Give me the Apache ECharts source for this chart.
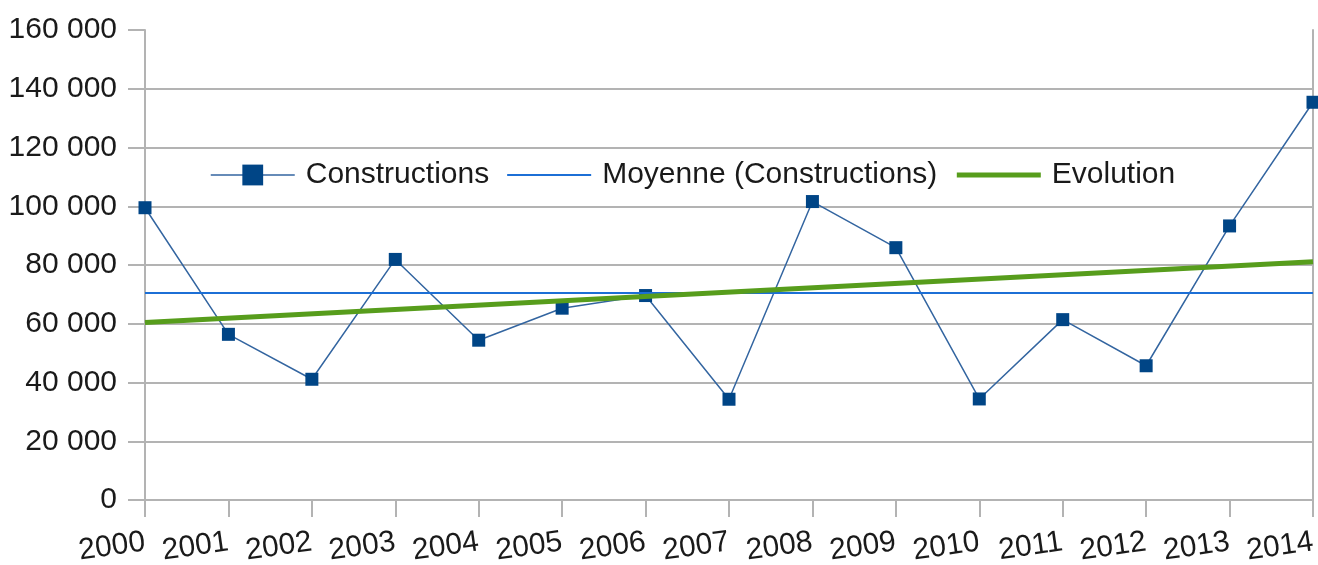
<!DOCTYPE html>
<html>
<head>
<meta charset="utf-8">
<script src="https://cdn.jsdelivr.net/npm/echarts@6/dist/echarts.min.js"></script>
<style>
html,body{margin:0;padding:0;background:#fff;}
#chart{width:1318px;height:565px;}
</style>
</head>
<body>
<div id="chart"></div>
<script>
const categories = ['2000','2001','2002','2003','2004','2005','2006','2007','2008','2009','2010','2011','2012','2013','2014'];
const constructions = [99500, 56400, 41100, 81900, 54400, 65300, 69600, 34300, 101600, 85900, 34400, 61400, 45700, 93300, 135400];
const meanValue = 70700;
const trendStart = 60400;
const trendEnd = 81100;
const yTicks = { min: 0, max: 160000, interval: 20000 };

const FONT = 'Liberation Sans';
function fmt(v){ return String(v).replace(/\B(?=(\d{3})+(?!\d))/g, ' '); }

const chart = echarts.init(document.getElementById('chart'), null, {renderer:'canvas'});
chart.setOption({
  animation: false,
  backgroundColor: '#ffffff',
  grid: { left: 145, right: 5, top: 30, bottom: 65, containLabel: false, outerBoundsMode: 'none' },
  legend: {
    data: [
      { name: 'Constructions', lineStyle: { width: 1.5 } },
      { name: 'Moyenne (Constructions)', itemStyle: { opacity: 0 }, lineStyle: { width: 2 } },
      { name: 'Evolution', itemStyle: { opacity: 0 }, lineStyle: { width: 5 } }
    ],
    left: 205, top: 155,
    itemWidth: 84, itemHeight: 26, itemGap: 17,
    textStyle: { fontFamily: FONT, fontSize: 30, color: '#1a1a1a', padding: [0,0,0,6] }
  },
  xAxis: {
    type: 'category', data: categories, boundaryGap: false,
    axisLine: { lineStyle: { color: '#b3b3b3', width: 2 } },
    axisTick: { show: true, length: 17, lineStyle: { color: '#b3b3b3', width: 2 } },
    splitLine: { show: false },
    axisLabel: { rotate: 8, margin: 42, fontFamily: FONT, fontSize: 30, color: '#1a1a1a', interval: 0 }
  },
  yAxis: [
    {
      type: 'value', min: yTicks.min, max: yTicks.max, interval: yTicks.interval,
      axisLine: { show: true, lineStyle: { color: '#b3b3b3', width: 2 } },
      axisTick: { show: true, length: 17, lineStyle: { color: '#b3b3b3', width: 2 } },
      splitLine: { show: true, showMaxLine: false, lineStyle: { color: '#b3b3b3', width: 2 } },
      axisLabel: { margin: 28, fontFamily: FONT, fontSize: 30, color: '#1a1a1a', formatter: fmt }
    },
    {
      type: 'value', position: 'right', min: yTicks.min, max: yTicks.max, interval: yTicks.interval,
      axisLine: { show: true, lineStyle: { color: '#b3b3b3', width: 2 } },
      axisTick: { show: false }, axisLabel: { show: false }, splitLine: { show: false }
    }
  ],
  series: [
    {
      name: 'Moyenne (Constructions)', type: 'line', data: [],
      symbol: 'none',
      itemStyle: { color: '#1c6fd6' },
      lineStyle: { color: '#1c6fd6', width: 2 },
      markLine: {
        silent: true, symbol: 'none', label: { show: false },
        lineStyle: { color: '#1c6fd6', width: 2, type: 'solid' },
        data: [{ yAxis: meanValue }]
      },
      z: 2
    },
    {
      name: 'Evolution', type: 'line', data: [],
      symbol: 'none',
      itemStyle: { color: '#579d1c' },
      lineStyle: { color: '#579d1c', width: 5 },
      markLine: {
        silent: true, symbol: 'none', label: { show: false },
        lineStyle: { color: '#579d1c', width: 5, type: 'solid' },
        data: [[{ coord: [categories[0], trendStart] }, { coord: [categories[categories.length-1], trendEnd] }]]
      },
      z: 3
    },
    {
      name: 'Constructions', type: 'line', data: constructions,
      symbol: 'rect', symbolSize: 13, showAllSymbol: true,
      itemStyle: { color: '#004586' },
      lineStyle: { color: '#3365a0', width: 1.5 },
      z: 4
    }
  ]
});
</script>
</body>
</html>
